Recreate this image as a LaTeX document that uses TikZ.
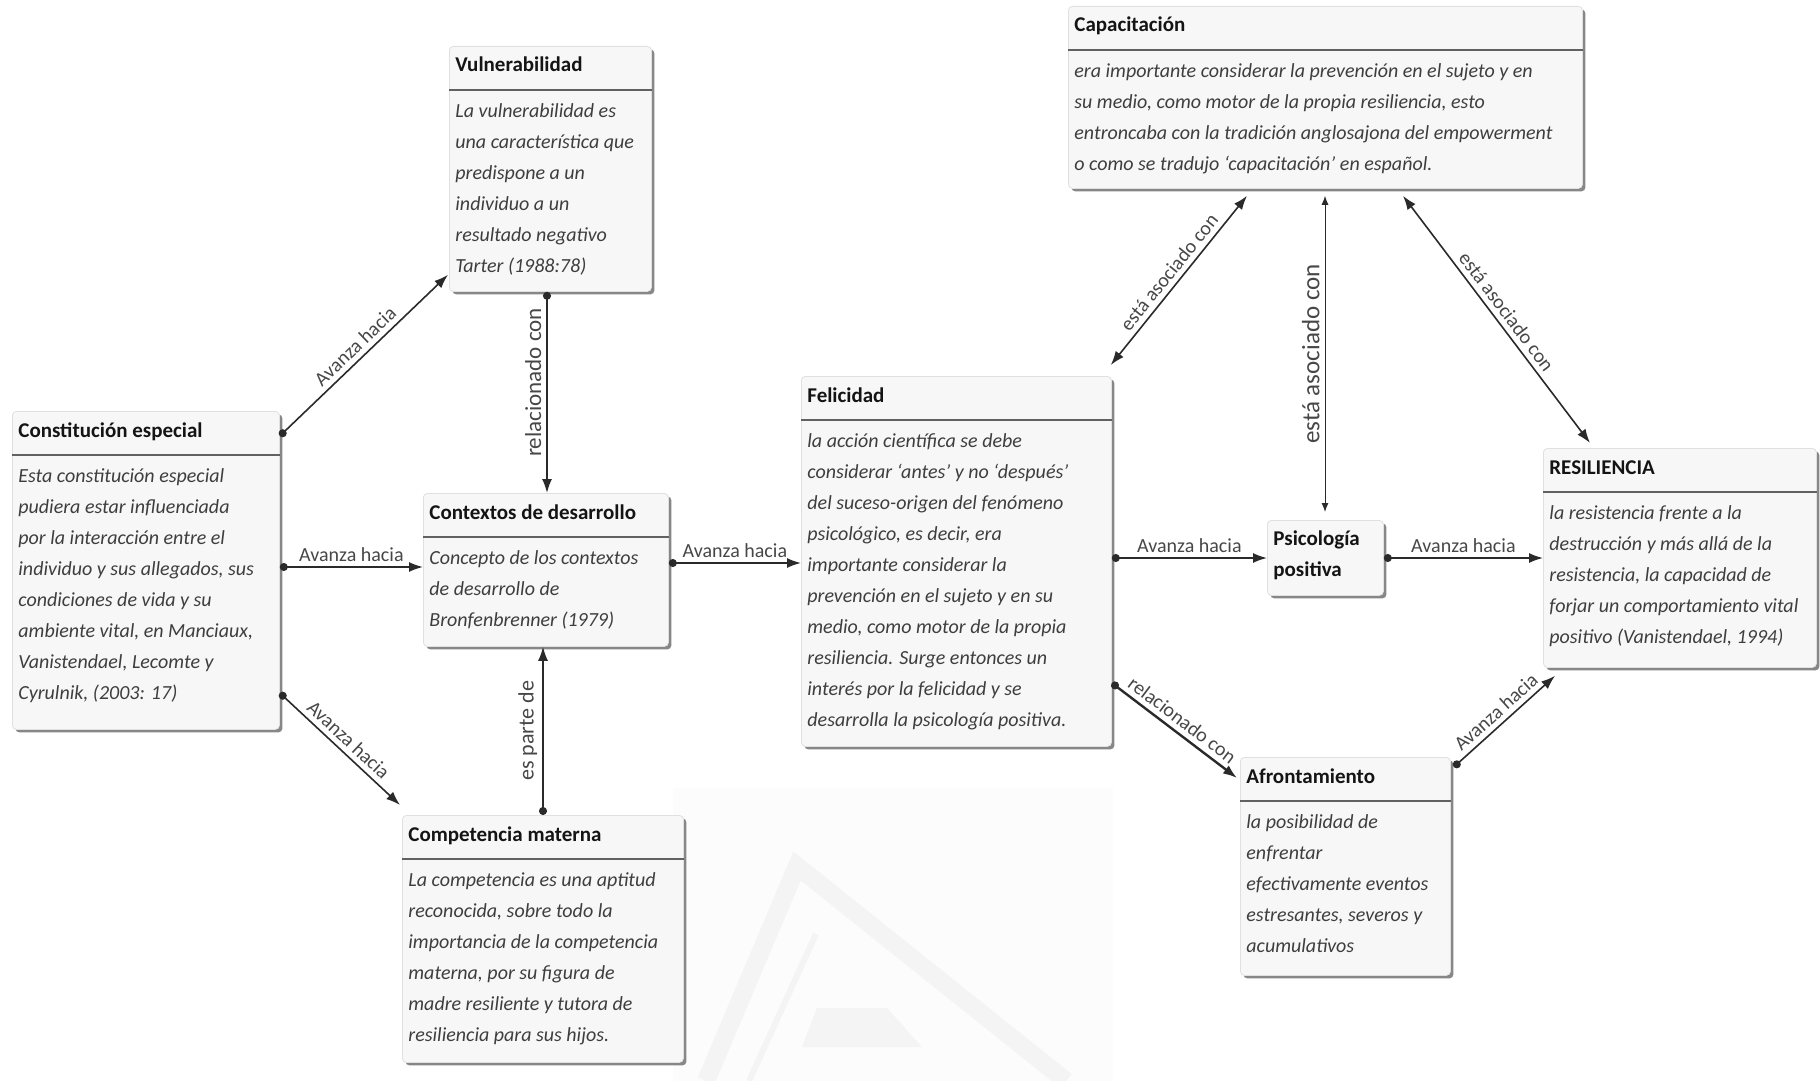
\documentclass[tikz,border=0pt]{standalone}
\usepackage{fontspec}
\setmainfont{Carlito}
\usetikzlibrary{arrows.meta,calc,shadows}

\definecolor{boxfill}{HTML}{F7F7F7}
\definecolor{titletext}{HTML}{141414}
\definecolor{bodytext}{HTML}{3E3E3E}
\definecolor{linkgray}{HTML}{2A2A2A}
\definecolor{markgray}{HTML}{F4F4F4}
\definecolor{markback}{HTML}{FCFCFC}

\tikzset{
  concept/.style={draw=black!12, fill=boxfill, rounded corners=2pt, inner sep=0pt,
    drop shadow={shadow xshift=1.5pt, shadow yshift=-1.5pt, fill=black!55, opacity=0.85}},
  divider/.style={draw=black!62, line width=1pt},
  headtext/.style={font=\fontsize{10.5}{15.5}\selectfont\bfseries, text=titletext,
    inner sep=0pt, anchor=base west},
  bodytxt/.style={font=\fontsize{10}{15.5}\selectfont\itshape, text=bodytext,
    align=left, inner sep=0pt, anchor=north west},
  link/.style={draw=linkgray, line width=0.8pt,
    {Circle[length=4pt]}-{Latex[length=7pt,width=5pt]}},
  twoway/.style={draw=linkgray, line width=0.8pt,
    {Latex[length=7pt,width=5pt]}-{Latex[length=7pt,width=5pt]}},
  lbl/.style={font=\fontsize{10}{12}\selectfont, text=black!72, inner sep=2.5pt},
  uplbl/.style={lbl, rotate=90, anchor=south},
}

% name, left, top, width, height (px), title, body
\newcommand\conceptbox[7]{%
  \node[concept, minimum width=#4*0.5pt, minimum height=#5*0.5pt, anchor=north west] (#1) at (#2,#3) {};
  \draw[divider] ($(#1.north west)+(0,44)$) -- ($(#1.north east)+(0,44)$);
  \node[headtext] (#1-head) at ($(#1.north west)+(6,26)$) {#6};
  \node[bodytxt] (#1-body) at ($(#1.north west)+(6,55)$) {\rule{0pt}{8pt}#7};
}

\begin{document}
\begin{tikzpicture}[x=0.5pt, y=-0.5pt]
\useasboundingbox (0,0) rectangle (1820,1081);
\fill[white] (0,0) rectangle (1820,1081);

% faint watermark behind the lower middle
\fill[markback] (673,788) rectangle (1113,1081);
\draw[markgray, line width=9pt, line join=miter] (706,1081) -- (797,866) -- (1066,1081);
\draw[markgray, line width=3pt] (749,1081) -- (816,934);
\fill[markgray] (802,1047) -- (922,1047) -- (887,1008) -- (817,1008) -- cycle;

\conceptbox{cons}{12}{411}{267}{318}{Constitución especial}{%
Esta constitución especial\\
pudiera estar influenciada\\
por la interacción entre el\\
individuo y sus allegados, sus\\
condiciones de vida y su\\
ambiente vital, en Manciaux,\\
Vanistendael, Lecomte y\\
Cyrulnik, (2003: 17)}

\conceptbox{vul}{449}{46}{202}{245}{Vulnerabilidad}{%
La vulnerabilidad es\\
una característica que\\
predispone a un\\
individuo a un\\
resultado negativo\\
Tarter (1988:78)}

\conceptbox{ctx}{423}{493}{245}{153}{Contextos de desarrollo}{%
Concepto de los contextos\\
de desarrollo de\\
Bronfenbrenner (1979)}

\conceptbox{comp}{402}{815}{281}{247}{Competencia materna}{%
La competencia es una aptitud\\
reconocida, sobre todo la\\
importancia de la competencia\\
materna, por su figura de\\
madre resiliente y tutora de\\
resiliencia para sus hijos.}

\conceptbox{fel}{801}{376}{310}{370}{Felicidad}{%
la acción científica se debe\\
considerar ‘antes’ y no ‘después’\\
del suceso-origen del fenómeno\\
psicológico, es decir, era\\
importante considerar la\\
prevención en el sujeto y en su\\
medio, como motor de la propia\\
resiliencia. Surge entonces un\\
interés por la felicidad y se\\
desarrolla la psicología positiva.}

\conceptbox{cap}{1068}{6}{514}{182}{Capacitación}{%
era importante considerar la prevención en el sujeto y en\\
su medio, como motor de la propia resiliencia, esto\\
entroncaba con la tradición anglosajona del empowerment\\
o como se tradujo ‘capacitación’ en español.}

\conceptbox{res}{1543}{448}{273}{219}{RESILIENCIA}{%
la resistencia frente a la\\
destrucción y más allá de la\\
resistencia, la capacidad de\\
forjar un comportamiento vital\\
positivo (Vanistendael, 1994)}

\conceptbox{afr}{1240}{757}{210}{218}{Afrontamiento}{%
la posibilidad de\\
enfrentar\\
efectivamente eventos\\
estresantes, severos y\\
acumulativos}

% small box without a body
\node[concept, minimum width=116*0.5pt, minimum height=75*0.5pt, anchor=north west] (psi) at (1267,520) {};
\node[headtext, align=left, anchor=north west] (psi-head) at ($(psi.north west)+(6,9)$)
  {\rule{0pt}{8pt}Psicología\\positiva};

% connectors
\draw[link] ($(cons.north east)+(0,25)$) -- ($(vul.south west)+(-1,-17)$)
  node[lbl, midway, sloped, above] {Avanza hacia};
\draw[link] ($(cons.north east)+(0,156)$) -- ($(ctx.north west)+(0,74)$)
  node[lbl, midway, above] {Avanza hacia};
\draw[link] ($(cons.north east)+(0,282)$) -- ($(comp.north west)+(-2,-10)$)
  node[lbl, midway, sloped, above] {Avanza hacia};

\draw[link] ($(vul.south west)+(98,0)$) -- ($(ctx.north west)+(124,0)$)
  node[uplbl, pos=0.45, font=\fontsize{11.5}{13}\selectfont] {relacionado con};
\draw[link] ($(comp.north west)+(141,0)$) -- ($(ctx.south west)+(120,0)$)
  node[uplbl, midway, font=\fontsize{11}{13}\selectfont] {es parte de};

\draw[link] ($(ctx.north east)+(0,70)$) -- ($(fel.north west)+(0,187)$)
  node[lbl, midway, above] {Avanza hacia};
\draw[link] ($(fel.north east)+(0,182)$) -- ($(psi.north west)+(0,38)$)
  node[lbl, midway, above] {Avanza hacia};
\draw[link] ($(psi.north east)+(0,38)$) -- ($(res.north west)+(0,110)$)
  node[lbl, midway, above] {Avanza hacia};

\draw[twoway] ($(fel.north east)+(-1,-11)$) -- ($(cap.south west)+(179,7)$)
  node[lbl, midway, sloped, above] {está asociado con};
\draw[draw=linkgray, line width=0.5pt, {Latex[length=4.5pt,width=3.5pt]}-{Latex[length=4.5pt,width=3.5pt]}]
  ($(psi.north west)+(58,-8)$) -- ($(cap.south west)+(257,7)$)
  node[uplbl, midway, font=\fontsize{12.5}{14}\selectfont] {está asociado con};
\draw[twoway] ($(cap.south west)+(335,7)$) -- ($(res.north west)+(47,-5)$)
  node[lbl, midway, sloped, above] {está asociado con};

\draw[link, line width=1.2pt] ($(fel.north east)+(0,307)$) -- ($(afr.north west)+(-3,21)$)
  node[lbl, midway, sloped, above] {relacionado con};
\draw[link] ($(afr.north east)+(3,10)$) -- ($(res.south west)+(12,8)$)
  node[lbl, midway, sloped, above] {Avanza hacia};
\end{tikzpicture}
\end{document}
